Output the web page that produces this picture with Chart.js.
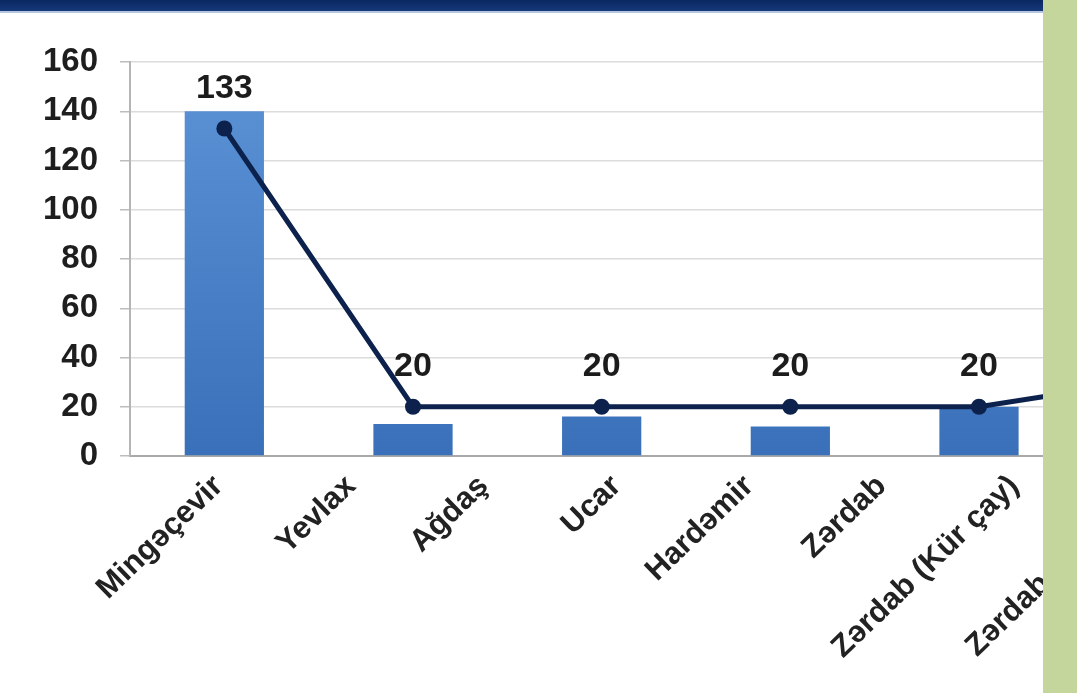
<!DOCTYPE html>
<html>
<head>
<meta charset="utf-8">
<script src="https://cdn.jsdelivr.net/npm/chart.js@4.4.1/dist/chart.umd.min.js"></script>
<style>
  html, body { margin: 0; padding: 0; background: #fff; overflow: hidden; }
  #wrap { position: relative; width: 1077px; height: 693px; overflow: hidden; }
  #chart { position: absolute; left: 0; top: 0; }
  .topbar { position: absolute; left: 0; top: 0; width: 1043px; height: 11px; background: linear-gradient(#0a2761, #15397a); border-bottom: 2px solid #b7c6de; }
  .sidebar { position: absolute; left: 1043px; top: 0; width: 34px; height: 693px; background: #c5d69c; }
</style>
</head>
<body>
<div id="wrap">
  <canvas id="chart" width="1270" height="693"></canvas>
  <div class="topbar"></div>
  <div class="sidebar"></div>
</div>
<script>
// station names along the bottom
const siteNames = ['Mingəçevir', 'Yevlax', 'Ağdaş', 'Ucar', 'Hardəmir', 'Zərdab', 'Zərdab (Kür çay)', 'Zərdab (Göyçay)'];
// measured values (bars) and labelled trend (line)
const barValues = [140, 13, 16, 12, 20, null];
const lineValues = [133, 20, 20, 20, 20, 32];
const yTickValues = [0, 20, 40, 60, 80, 100, 120, 140, 160];

const FONT = '"Liberation Sans", Arial, sans-serif';

// numbers above the line points
const pointLabels = {
  id: 'pointLabels',
  afterDatasetsDraw(chart) {
    const ctx = chart.ctx;
    const meta = chart.getDatasetMeta(0);
    ctx.save();
    ctx.font = 'bold 34px ' + FONT;
    ctx.fillStyle = '#1c1c1c';
    ctx.textAlign = 'center';
    ctx.textBaseline = 'middle';
    meta.data.forEach((pt, i) => {
      if (lineValues[i] == null) return;
      ctx.fillText(String(lineValues[i]), pt.x, pt.y - 40);
    });
    ctx.restore();
  }
};

function barFill(context) {
  const area = context.chart.chartArea;
  if (!area) return '#4a80c8';
  const g = context.chart.ctx.createLinearGradient(0, area.top, 0, area.bottom);
  g.addColorStop(0, '#5d93d6');
  g.addColorStop(1, '#3a70b9');
  return g;
}

new Chart(document.getElementById('chart'), {
  type: 'bar',
  data: {
    datasets: [
      {
        type: 'line',
        data: lineValues,
        xAxisID: 'x',
        borderColor: '#0c224d',
        borderWidth: 5,
        pointRadius: 8,
        pointBackgroundColor: '#0c224d',
        pointBorderWidth: 0,
        tension: 0,
        order: 0
      },
      {
        type: 'bar',
        data: barValues,
        xAxisID: 'x',
        backgroundColor: barFill,
        barPercentage: 0.42,
        categoryPercentage: 1,
        order: 1
      }
    ]
  },
  options: {
    responsive: false,
    animation: false,
    layout: { padding: { top: 62, left: 0, right: 0, bottom: 0 } },
    plugins: { legend: { display: false }, tooltip: { enabled: false } },
    scales: {
      x: {
        type: 'category',
        labels: barValues.map((v, i) => String(i + 1)),
        display: false,
        offset: true
      },
      names: {
        type: 'linear',
        position: 'bottom',
        min: -0.134,
        max: 7.334,
        afterBuildTicks(scale) { scale.ticks = siteNames.map((n, i) => ({ value: i })); },
        afterFit(scale) { scale.height = 237; },
        grid: { display: false, drawTicks: false },
        border: { display: true, color: '#a9a9a9', width: 2 },
        ticks: {
          autoSkip: false,
          minRotation: 44,
          maxRotation: 44,
          padding: 12,
          color: '#222',
          font: { family: FONT, size: 31, weight: 'bold' },
          callback: (v) => siteNames[v]
        }
      },
      y: {
        min: 0,
        max: 160,
        afterBuildTicks(scale) { scale.ticks = yTickValues.map(v => ({ value: v })); },
        afterFit(scale) { scale.width = 130; },
        grid: { color: '#dcdcdc', lineWidth: 1.5, tickLength: 10, tickColor: '#bdbdbd' },
        border: { color: '#b5b5b5', width: 2 },
        ticks: { padding: 22, color: '#1e1e1e', font: { family: FONT, size: 33, weight: 'bold' } }
      }
    }
  },
  plugins: [pointLabels]
});
</script>
</body>
</html>
